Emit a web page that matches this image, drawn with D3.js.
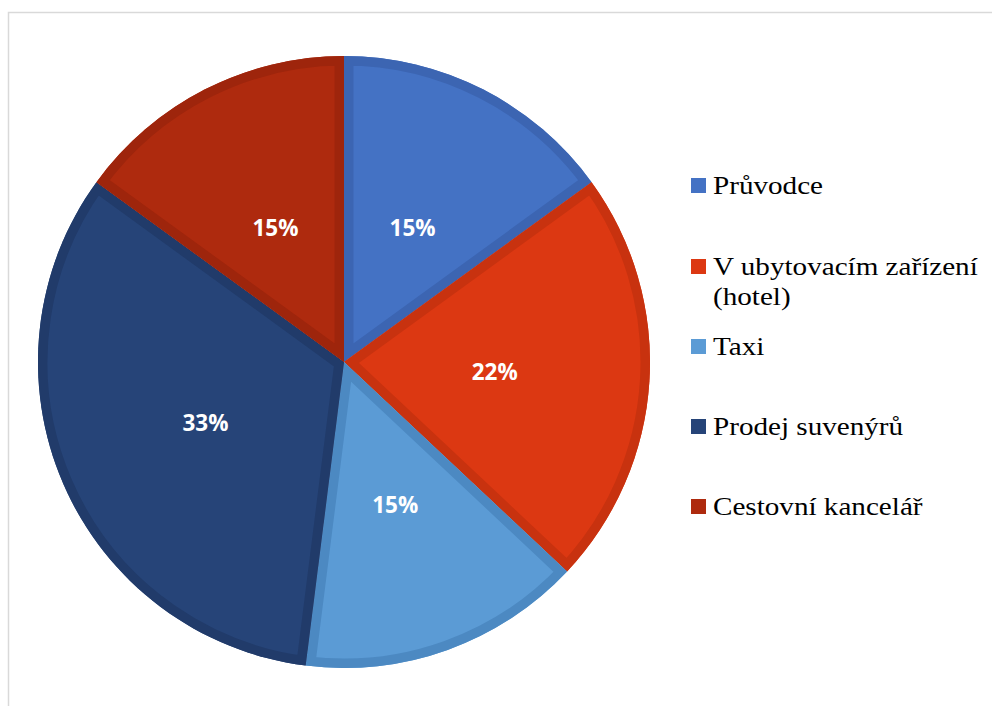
<!DOCTYPE html>
<html>
<head>
<meta charset="utf-8">
<script src="https://cdn.jsdelivr.net/npm/d3@7/dist/d3.min.js"></script>
<style>
  html, body { margin: 0; padding: 0; background: #ffffff; }
  svg { display: block; }
</style>
</head>
<body>
<script>
// Categories, shares (percent) and slice colours
const categories = ["Průvodce", "V ubytovacím zařízení (hotel)", "Taxi", "Prodej suvenýrů", "Cestovní kancelář"];
const legendLines = [["Průvodce"], ["V ubytovacím zařízení", "(hotel)"], ["Taxi"], ["Prodej suvenýrů"], ["Cestovní kancelář"]];
const values = [15, 22, 15, 33, 15];
const fills = ["#4472C4", "#DC3812", "#5B9BD5", "#264478", "#AE2A0E"];
const edges = ["#3C65B2", "#C8320F", "#4C89C2", "#213B6A", "#9E250C"];

const W = 992, H = 706;
const cx = 344, cy = 362, R = 306;

const svg = d3.select("body").append("svg")
  .attr("width", W).attr("height", H);

// Chart frame
svg.append("path")
  .attr("d", `M8.5,${H} L8.5,12.5 L${W},12.5`)
  .attr("fill", "none")
  .attr("stroke", "#d9d9d9")
  .attr("stroke-width", 1.5);

const pie = d3.pie().sort(null).value(d => d)(values);
const arc = d3.arc().innerRadius(0).outerRadius(R);
const labelArc = d3.arc().innerRadius(151).outerRadius(151);

const g = svg.append("g").attr("transform", `translate(${cx},${cy})`);
const defs = svg.append("defs");

pie.forEach((p, i) => {
  defs.append("clipPath").attr("id", "clip" + i)
    .append("path").attr("d", arc(p));
});

const slices = g.selectAll("g.slice").data(pie).join("g").attr("class", "slice");

slices.append("path")
  .attr("d", d => arc(d))
  .attr("fill", (d, i) => fills[i]);

// Darker inner edge band along each slice outline
slices.append("path")
  .attr("d", d => arc(d))
  .attr("fill", "none")
  .attr("stroke", (d, i) => edges[i])
  .attr("stroke-width", 19)
  .attr("stroke-linejoin", "miter")
  .attr("clip-path", (d, i) => `url(#clip${i})`);

// Percentage labels
slices.append("text")
  .attr("transform", d => `translate(${labelArc.centroid(d)})`)
  .attr("text-anchor", "middle")
  .attr("dy", "0.4em")
  .attr("fill", "#ffffff")
  .attr("font-family", "'Open Sans', 'DejaVu Sans', sans-serif")
  .attr("font-weight", "bold")
  .attr("font-size", 22.5)
  .text(d => d.value + "%");

// Legend (serif text, widened horizontally)
const baselines = [194, 275, 355, 435, 515];
const legend = svg.append("g");
legendLines.forEach((lines, i) => {
  const item = legend.append("g");
  item.append("rect")
    .attr("x", 691).attr("y", baselines[i] - 16)
    .attr("width", 15).attr("height", 15)
    .attr("fill", fills[i]);
  lines.forEach((t, j) => {
    item.append("text")
      .attr("transform", `translate(713,${baselines[i] + j * 30}) scale(1.19,1)`)
      .style("font-family", "'Liberation Serif', 'Times New Roman', serif")
      .attr("font-size", 24.5)
      .attr("fill", "#000000")
      .text(t);
  });
});
</script>
</body>
</html>
